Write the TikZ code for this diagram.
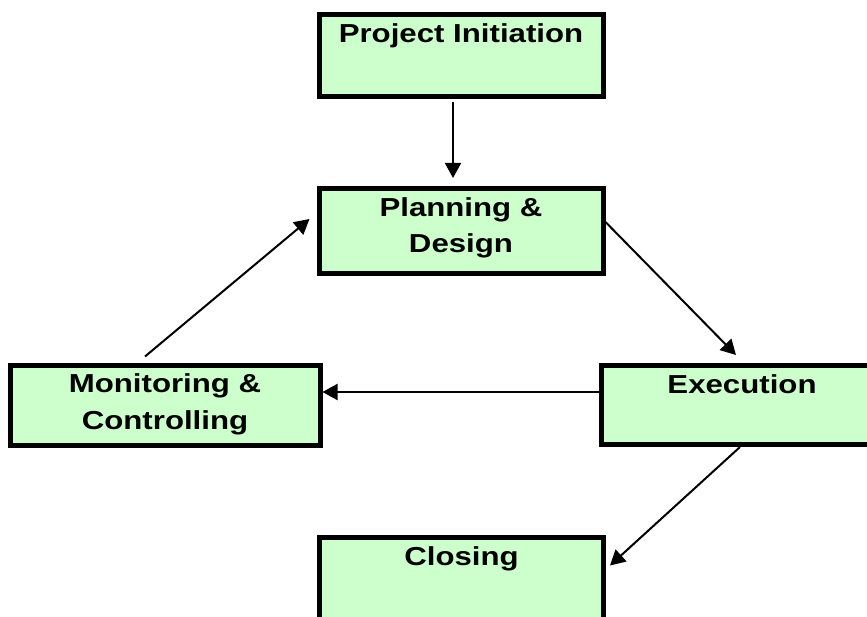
\documentclass[tikz,border=0pt]{standalone}
\usepackage{fontspec}
\setmainfont{Liberation Sans}[FakeStretch=1.2]
\usetikzlibrary{arrows.meta, positioning}
\definecolor{stagegreen}{RGB}{204,255,204}
\tikzstyle{stage} = [rectangle, minimum width=284pt, minimum height=82pt, draw=black, line width=5pt, fill=stagegreen]
\tikzstyle{stagetext} = [anchor=north, inner sep=0pt, yshift=-11pt, align=center, font=\fontsize{26}{36.5}\selectfont\bfseries]
\tikzstyle{arrow} = [line width=2pt, -{Triangle[length=15pt, width=16pt]}]

\begin{document}
\begin{tikzpicture}[x=1pt, y=-1pt]
				\useasboundingbox (0,0) rectangle (867,617);
				\clip (0,0) rectangle (867,617);
				\node (init)[stage, label={[stagetext]north:Project Initiation}] at (461,55.5) {};
				\node (plan)[stage, minimum height=85pt, below=87pt of init, label={[stagetext]north:Planning \&\\Design}] {};
				\node (exec)[stage, minimum width=282pt, minimum height=79pt, label={[stagetext]north:Execution}] at (742,405) {};
				\node (monitor)[stage, minimum width=310pt, minimum height=80pt, left=276pt of exec, label={[stagetext]north:Monitoring \&\\Controlling}] {};
				\node (close)[stage, label={[stagetext]north:Closing}] at (461.5,578.5) {};
				\draw [arrow, shorten <=3pt, shorten >=8pt] ([xshift=-8pt]init.south) -- ([xshift=-8pt]plan.north);
				\draw [arrow] ([yshift=9pt]plan.east) -- ([xshift=-6pt, yshift=8pt]exec.north);
				\draw [arrow] ([yshift=13pt]exec.west) -- ([yshift=13pt]monitor.east);
				\draw [arrow] ([xshift=-2pt]exec.south) -- ([xshift=4pt, yshift=13pt]close.east);
				\draw [arrow] ([xshift=-20pt, yshift=6pt]monitor.north) -- ([xshift=-7pt, yshift=12pt]plan.west);
			\end{tikzpicture}
\end{document}
